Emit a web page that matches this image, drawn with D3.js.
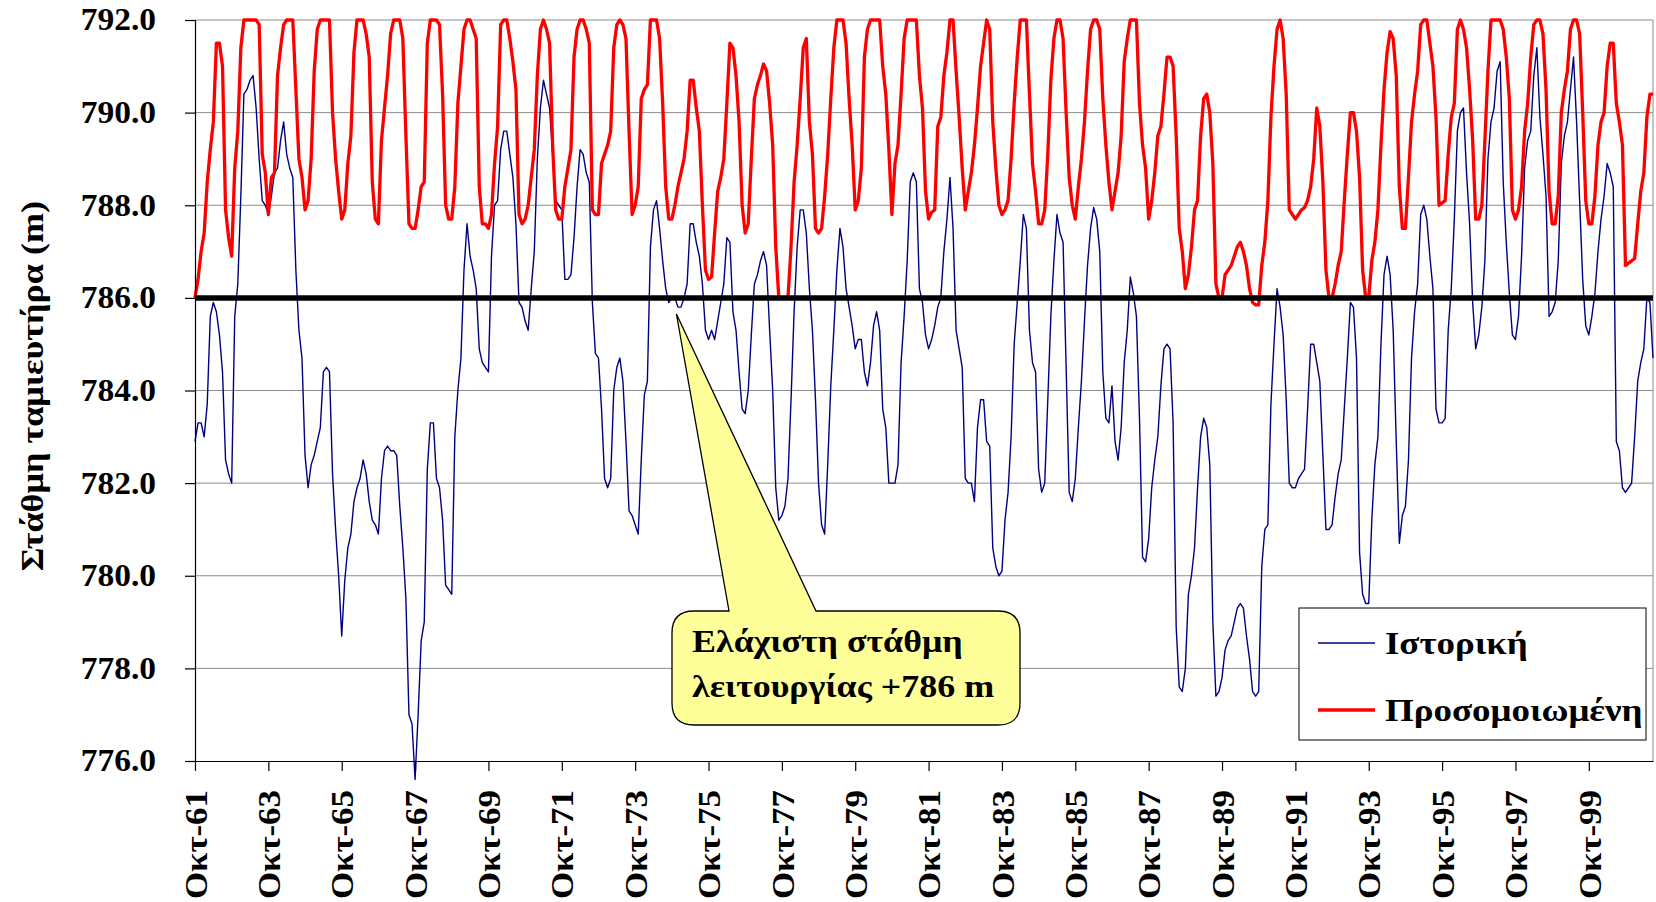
<!DOCTYPE html>
<html>
<head>
<meta charset="utf-8">
<script src="https://cdn.jsdelivr.net/npm/d3@7"></script>
<style>
  html, body { margin: 0; padding: 0; background: #ffffff; }
  svg { display: block; }
  text { font-family: "Liberation Serif", "Times New Roman", serif; font-weight: bold; fill: #000; }
</style>
</head>
<body>
<svg id="chart" width="1656" height="902"></svg>
<script>
// ---- DATA (monthly, starting Οκτ-1961) ----
const historical = [
  782.9, 783.3, 783.3, 783.0, 783.7, 785.6, 785.9, 785.7, 785.2, 784.4, 782.5, 782.2,
  782.0, 785.6, 786.3, 788.2, 790.4, 790.5, 790.7, 790.8, 790.1, 789.0, 788.1, 788.0,
  787.8, 788.2, 788.7, 788.8, 789.4, 789.8, 789.1, 788.8, 788.6, 786.6, 785.3, 784.7,
  782.6, 781.9, 782.4, 782.6, 782.9, 783.2, 784.4, 784.5, 784.4, 782.2, 781.0, 780.0,
  778.7, 779.9, 780.6, 780.9, 781.6, 781.9, 782.1, 782.5, 782.2, 781.6, 781.2, 781.1,
  780.9, 782.1, 782.7, 782.8, 782.7, 782.7, 782.6, 781.5, 780.6, 779.5, 777.0, 776.8,
  775.6, 777.0, 778.6, 779.0, 782.3, 783.3, 783.3, 782.1, 781.9, 781.2, 779.8, 779.7,
  779.6, 783.0, 784.0, 784.7, 786.6, 787.6, 786.9, 786.6, 786.2, 784.9, 784.6, 784.5,
  784.4, 786.9, 788.0, 788.1, 789.2, 789.6, 789.6, 789.1, 788.6, 787.6, 785.9, 785.8,
  785.5, 785.3, 786.2, 787.0, 789.0, 790.1, 790.7, 790.4, 790.1, 789.1, 788.1, 788.0,
  787.9, 786.4, 786.4, 786.5, 787.3, 788.4, 789.2, 789.1, 788.7, 788.5, 785.9, 784.8,
  784.7, 783.6, 782.1, 781.9, 782.1, 784.0, 784.5, 784.7, 784.2, 782.9, 781.4, 781.3,
  781.1, 780.9, 782.5, 783.9, 784.2, 787.1, 787.9, 788.1, 787.5, 786.8, 786.2, 785.9,
  786.0, 786.0, 785.8, 785.8, 786.0, 786.3, 787.6, 787.6, 787.2, 786.9, 786.3, 785.3,
  785.1, 785.3, 785.1, 785.5, 785.9, 786.3, 787.3, 787.2, 785.7, 785.3, 784.4, 783.6,
  783.5, 784.0, 785.2, 786.3, 786.5, 786.8, 787.0, 786.7, 785.3, 784.0, 781.9, 781.2,
  781.3, 781.5, 782.1, 783.8, 785.7, 787.1, 787.9, 787.9, 787.4, 786.2, 785.3, 783.8,
  782.0, 781.1, 780.9, 782.4, 784.1, 785.3, 786.6, 787.5, 787.1, 786.2, 785.8, 785.4,
  784.9, 785.1, 785.1, 784.4, 784.1, 784.6, 785.4, 785.7, 785.3, 783.6, 783.2, 782.0,
  782.0, 782.0, 782.4, 784.6, 785.6, 786.8, 788.5, 788.7, 788.5, 786.2, 785.9, 785.2,
  784.9, 785.1, 785.4, 785.8, 786.0, 787.0, 787.7, 788.6, 787.5, 785.3, 784.9, 784.5,
  782.1, 782.0, 782.0, 781.6, 783.2, 783.8, 783.8, 782.9, 782.8, 780.6, 780.2, 780.0,
  780.1, 781.2, 781.8, 783.0, 785.0, 785.9, 786.8, 787.8, 787.5, 785.3, 784.6, 784.4,
  782.3, 781.8, 782.0, 783.8, 785.6, 786.8, 787.8, 787.4, 787.2, 784.5, 781.8, 781.6,
  782.1, 783.2, 784.2, 785.5, 786.7, 787.5, 787.95, 787.7, 787.0, 784.4, 783.4, 783.3,
  784.1, 782.9, 782.5, 783.2, 784.6, 785.3, 786.45, 786.1, 785.6, 783.4, 780.4, 780.3,
  780.8, 781.9, 782.5, 783.0, 784.1, 784.9, 785.0, 784.9, 783.3, 778.9, 777.6, 777.5,
  778.0, 779.6, 780.0, 780.6, 781.9, 783.0, 783.4, 783.2, 782.4, 779.0, 777.4, 777.5,
  777.8, 778.4, 778.6, 778.7, 779.0, 779.3, 779.4, 779.3, 778.7, 778.2, 777.5, 777.4,
  777.5, 780.2, 781.0, 781.1, 783.7, 785.0, 786.2, 785.8, 785.2, 783.8, 782.0, 781.9,
  781.9, 782.1, 782.2, 782.3, 783.6, 785.0, 785.0, 784.6, 784.2, 782.6, 781.0, 781.0,
  781.1, 781.7, 782.2, 782.5, 783.6, 784.7, 785.9, 785.8, 784.7, 780.5, 779.6, 779.4,
  779.4, 781.2, 782.4, 783.0, 785.0, 786.5, 786.9, 786.5, 785.3, 782.9, 780.7, 781.3,
  781.5, 782.5, 784.7, 785.7, 786.3, 787.8, 788.0, 787.7, 786.9, 786.2, 783.6, 783.3,
  783.3, 783.4, 785.3, 786.2, 787.7, 789.6, 790.0, 790.1, 788.7, 787.6, 785.9, 784.9,
  785.2, 785.8, 786.8, 789.0, 789.8, 790.1, 790.9, 791.1, 788.5, 787.2, 786.1, 785.2,
  785.1, 785.6, 786.9, 788.8, 789.4, 789.6, 790.8, 791.4, 789.9, 789.1, 788.2, 785.6,
  785.7, 785.9, 786.8, 788.9, 789.5, 789.8, 790.5, 791.2, 789.8, 788.1, 786.4, 785.4,
  785.2, 785.6, 786.1, 787.0, 787.7, 788.2, 788.9, 788.7, 788.4, 782.9, 782.7, 781.9,
  781.8, 781.9, 782.0, 783.0, 784.2, 784.6, 784.9, 786.0, 785.9, 784.7
];

const simulated = [
  786.0, 786.4, 787.0, 787.4, 788.5, 789.2, 789.8, 791.5, 791.5, 791.0, 787.9, 787.3,
  786.9, 788.8, 789.6, 791.4, 792, 792, 792, 792, 792, 791.9, 789.1, 788.7,
  787.8, 788.6, 788.7, 790.8, 791.4, 791.9, 792, 792, 792, 790.5, 789.0, 788.6,
  787.9, 788.1, 789.0, 790.9, 791.8, 792, 792, 792, 792, 790.0, 789.0, 788.3,
  787.7, 787.9, 788.9, 789.5, 791.3, 792, 792, 792, 791.7, 791.2, 788.5, 787.7,
  787.6, 789.4, 790.1, 790.8, 791.7, 792, 792, 792, 791.6, 789.5, 787.6, 787.5,
  787.5, 787.9, 788.4, 788.5, 791.5, 792, 792, 792, 791.9, 790.4, 788.0, 787.7,
  787.7, 788.4, 790.2, 791.0, 791.8, 792, 792, 791.8, 791.6, 788.4, 787.6, 787.6,
  787.5, 787.8, 788.9, 789.7, 791.9, 792, 792, 791.6, 791.1, 790.5, 787.8, 787.6,
  787.7, 788.0, 788.6, 789.2, 790.8, 791.8, 792, 791.8, 791.5, 789.3, 787.9, 787.7,
  787.7, 788.4, 788.8, 789.2, 791.2, 791.8, 792, 792, 791.8, 791.5, 787.9, 787.8,
  787.8, 788.9, 789.1, 789.3, 789.6, 791.4, 791.9, 792, 791.9, 791.6, 789.6, 787.8,
  788.0, 788.4, 790.3, 790.5, 790.6, 792, 792, 792, 791.6, 790.2, 788.4, 787.7,
  787.7, 788.0, 788.4, 788.7, 789.0, 789.6, 790.7, 790.7, 790.1, 789.6, 788.0, 786.6,
  786.4, 786.45, 787.4, 788.3, 788.6, 789.0, 790.2, 791.5, 791.4, 790.8, 789.8, 788.0,
  787.4, 787.6, 789.0, 790.3, 790.6, 790.8, 791.05, 790.9, 790.2, 789.3, 787.1, 786.0,
  786.0, 786.0, 786.0, 787.1, 788.5, 789.3, 790.3, 791.4, 791.6, 789.8, 789.1, 787.5,
  787.4, 787.5, 788.2, 789.1, 790.3, 791.4, 792, 792, 792, 791.5, 790.3, 789.3,
  787.9, 788.1, 788.8, 791.2, 791.8, 792, 792, 792, 792, 791.0, 790.4, 789.2,
  787.8, 788.9, 789.3, 790.4, 791.6, 792, 792, 792, 792, 790.8, 790.1, 788.3,
  787.7, 787.85, 787.9, 789.7, 789.9, 790.8, 791.3, 792, 792, 790.9, 789.9, 788.8,
  787.9, 788.3, 788.7, 789.3, 790.1, 791.0, 791.5, 792, 791.8, 789.8, 788.8, 788.0,
  787.8, 787.9, 788.1, 789.0, 790.2, 791.2, 792, 792, 792, 790.4, 788.9, 788.3,
  787.6, 787.6, 787.9, 789.1, 790.7, 791.6, 792, 792, 791.6, 790.0, 788.6, 788.0,
  787.7, 788.4, 789.0, 789.8, 790.9, 791.8, 792, 792, 791.8, 790.3, 789.3, 788.5,
  787.9, 788.3, 788.7, 789.5, 791.1, 791.6, 792, 792, 792, 790.2, 789.3, 788.8,
  787.7, 788.1, 788.7, 789.5, 789.7, 790.4, 791.2, 791.2, 791.0, 789.5, 787.5, 787.0,
  786.2, 786.5, 787.1, 787.9, 788.1, 789.5, 790.3, 790.4, 790.0, 788.9, 786.3, 786.0,
  786.0, 786.5, 786.6, 786.7, 786.9, 787.1, 787.2, 787.0, 786.7, 786.2, 785.9, 785.85,
  785.85, 786.7, 787.2, 788.1, 789.9, 791.0, 791.8, 792, 791.6, 790.4, 787.9, 787.8,
  787.7, 787.8, 787.9, 787.95, 788.1, 788.4, 789.0, 790.1, 789.7, 788.5, 786.6, 786.0,
  786.0, 786.3, 786.7, 787.0, 788.1, 789.1, 790.0, 790.0, 789.6, 788.6, 786.6, 786.0,
  786.0, 786.8, 787.2, 787.9, 789.3, 790.5, 791.3, 791.75, 791.6, 790.8, 788.4, 787.5,
  787.5, 788.6, 789.8, 790.4, 790.9, 791.9, 792, 792, 791.5, 791.0, 789.9, 788.0,
  788.05, 788.1, 789.1, 789.9, 790.2, 791.8, 792, 791.8, 791.4, 790.5, 789.4, 787.7,
  787.7, 788.0, 789.4, 790.9, 792, 792, 792, 792, 791.8, 791.2, 790.3, 787.9,
  787.7, 787.9, 788.4, 789.6, 790.2, 791.2, 791.9, 792, 792, 791.7, 790.5, 788.3,
  787.6, 787.6, 788.2, 790.0, 790.5, 790.9, 791.8, 792, 792, 791.7, 790.0, 788.1,
  787.6, 787.6, 788.2, 789.3, 789.8, 790.0, 791.0, 791.5, 791.5, 790.2, 789.8, 789.3,
  786.7, 786.75, 786.8, 786.85, 787.6, 788.3, 788.7, 789.9, 790.4, 790.4
];

const minOperatingLevel = 786;   // Ελάχιστη στάθμη λειτουργίας
const yTicks = [776, 778, 780, 782, 784, 786, 788, 790, 792];
const xTickLabels = ["Οκτ-61","Οκτ-63","Οκτ-65","Οκτ-67","Οκτ-69","Οκτ-71","Οκτ-73","Οκτ-75","Οκτ-77","Οκτ-79",
                     "Οκτ-81","Οκτ-83","Οκτ-85","Οκτ-87","Οκτ-89","Οκτ-91","Οκτ-93","Οκτ-95","Οκτ-97","Οκτ-99"];
const seriesNames = ["Ιστορική", "Προσομοιωμένη"];
const yTitle = "Στάθμη ταμιευτήρα (m)";
const calloutLines = ["Ελάχιστη στάθμη", "λειτουργίας +786 m"];

// ---- LAYOUT ----
const L = 195, R = 1653, T = 20, B = 761;
const svg = d3.select("#chart");
const N = historical.length;

const x = d3.scaleLinear().domain([0, N - 1]).range([L, R]);
const y = d3.scaleLinear().domain([776, 792]).range([B, T]);

// gridlines
svg.append("g").selectAll("line")
  .data(yTicks.filter(v => v > 776))
  .join("line")
  .attr("x1", L).attr("x2", R)
  .attr("y1", d => y(d)).attr("y2", d => y(d))
  .attr("stroke", "#8c8c8c").attr("stroke-width", 1);

// right border of plot area
svg.append("line").attr("x1", R).attr("x2", R).attr("y1", T).attr("y2", B)
  .attr("stroke", "#8c8c8c").attr("stroke-width", 1);

// historical series
const line = d3.line().x((d, i) => x(i)).y(d => y(d));
svg.append("path").datum(historical)
  .attr("fill", "none").attr("stroke", "#000080").attr("stroke-width", 1.4)
  .attr("stroke-linejoin", "round")
  .attr("d", line);

// simulated series
svg.append("path").datum(simulated)
  .attr("fill", "none").attr("stroke", "#ff0000").attr("stroke-width", 3.3)
  .attr("stroke-linejoin", "round")
  .attr("d", line);

// minimum operating level
svg.append("line")
  .attr("x1", x(0)).attr("x2", x(N - 1))
  .attr("y1", y(minOperatingLevel)).attr("y2", y(minOperatingLevel))
  .attr("stroke", "#000").attr("stroke-width", 5.5);

// y axis
const yAxis = d3.axisLeft(y).tickValues(yTicks).tickFormat(d3.format(".1f"))
  .tickSize(10).tickPadding(27);
const gy = svg.append("g").attr("transform", `translate(${L},0)`).call(yAxis);
gy.select(".domain").attr("stroke", "#000").attr("stroke-width", 1.2);
gy.selectAll(".tick line").attr("stroke", "#000").attr("stroke-width", 1.2);
gy.selectAll(".tick text")
  .attr("font-size", 31).attr("font-family", "Liberation Serif").attr("font-weight", "bold").attr("fill", "#000")
  .attr("x", 0)
  .attr("transform", "translate(-39,0) scale(1.08,1)");

// x axis
const xTickIdx = xTickLabels.map((_, i) => i * 24);
const xAxis = d3.axisBottom(x).tickValues(xTickIdx).tickFormat((d, i) => xTickLabels[i])
  .tickSize(10).tickSizeOuter(0);
const gx = svg.append("g").attr("transform", `translate(0,${B})`).call(xAxis);
gx.select(".domain").attr("stroke", "#000").attr("stroke-width", 1.2);
gx.selectAll(".tick line").attr("stroke", "#000").attr("stroke-width", 1.2);
gx.selectAll(".tick text")
  .attr("font-size", 32).attr("font-family", "Liberation Serif").attr("font-weight", "bold").attr("fill", "#000")
  .attr("text-anchor", "end")
  .attr("transform", "translate(0,29) rotate(-90) scale(1.09,1)")
  .attr("x", 0).attr("y", 0).attr("dy", "0.35em");

// y title
svg.append("text")
  .attr("transform", "translate(43,386) rotate(-90) scale(1.13,1)")
  .attr("text-anchor", "middle")
  .attr("font-size", 32)
  .text(yTitle);

// callout
const cb = {l: 672, r: 1020, t: 611, b: 725, rad: 22};
const tip = [x(157.5), 314];
const baseL = 729, baseR = 816;
const cp = d3.path();
cp.moveTo(cb.l + cb.rad, cb.t);
cp.lineTo(baseL, cb.t);
cp.lineTo(tip[0], tip[1]);
cp.lineTo(baseR, cb.t);
cp.lineTo(cb.r - cb.rad, cb.t);
cp.quadraticCurveTo(cb.r, cb.t, cb.r, cb.t + cb.rad);
cp.lineTo(cb.r, cb.b - cb.rad);
cp.quadraticCurveTo(cb.r, cb.b, cb.r - cb.rad, cb.b);
cp.lineTo(cb.l + cb.rad, cb.b);
cp.quadraticCurveTo(cb.l, cb.b, cb.l, cb.b - cb.rad);
cp.lineTo(cb.l, cb.t + cb.rad);
cp.quadraticCurveTo(cb.l, cb.t, cb.l + cb.rad, cb.t);
cp.closePath();
svg.append("path").attr("d", cp.toString())
  .attr("fill", "#ffff99").attr("stroke", "#000").attr("stroke-width", 1.3);

svg.append("g").selectAll("text").data(calloutLines).join("text")
  .attr("transform", (d, i) => `translate(692,${652 + i * 45}) scale(1.16,1)`)
  .attr("font-size", 31)
  .text(d => d);

// legend
const lg = svg.append("g");
lg.append("rect").attr("x", 1299).attr("y", 608).attr("width", 347).attr("height", 132)
  .attr("fill", "#fff").attr("stroke", "#000").attr("stroke-width", 1);
const legColors = ["#000080", "#ff0000"];
const legWidths = [1.4, 3.3];
seriesNames.forEach((name, i) => {
  const ly = 643 + i * 67;
  lg.append("line").attr("x1", 1318).attr("x2", 1375).attr("y1", ly).attr("y2", ly)
    .attr("stroke", legColors[i]).attr("stroke-width", legWidths[i]);
  lg.append("text").attr("transform", `translate(1385,${ly + 11}) scale(1.155,1)`)
    .attr("font-size", 32).text(name);
});
</script>
</body>
</html>
